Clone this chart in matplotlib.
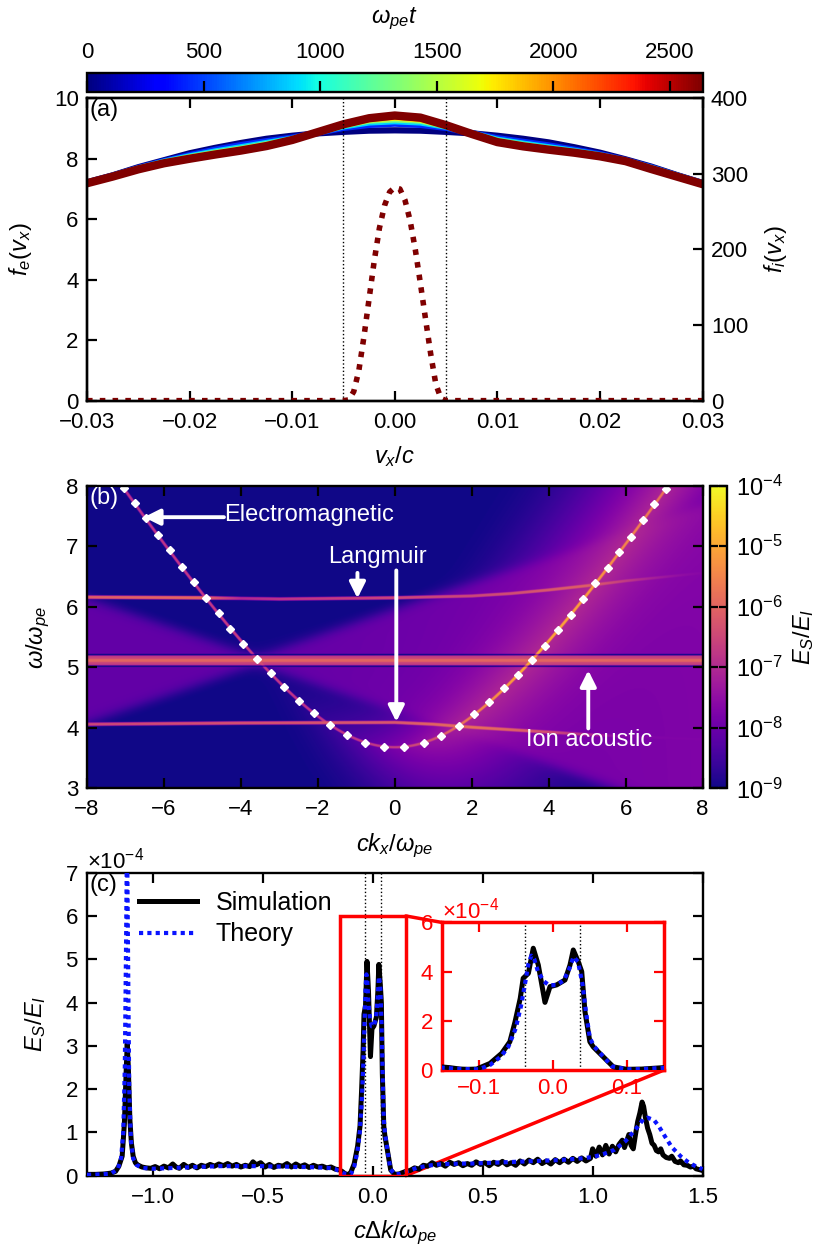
import numpy as np
import matplotlib
matplotlib.use('Agg')
import matplotlib.pyplot as plt
from matplotlib.colors import LogNorm, Normalize
from matplotlib.patches import Rectangle, ConnectionPatch
from matplotlib.ticker import ScalarFormatter, LogLocator, NullLocator
import matplotlib.cm as cm

plt.rcParams['font.family'] = ['Liberation Sans', 'DejaVu Sans']
plt.rcParams['mathtext.fontset'] = 'custom'
plt.rcParams['mathtext.rm'] = 'Liberation Sans'
plt.rcParams['mathtext.it'] = 'Liberation Sans:italic'
plt.rcParams['mathtext.bf'] = 'Liberation Sans:bold'
plt.rcParams['axes.linewidth'] = 1.7

TICK = 16
LAB = 17

# ---------------- panel (a) data ----------------
v_e = np.arange(-0.03, 0.03001, 0.0025)
t_e = [0, 440, 880, 1320, 1760, 2200, 2640]
f_e = [
    [7.22, 7.45, 7.72, 7.95, 8.18, 8.36, 8.52, 8.66, 8.76, 8.84, 8.89, 8.93, 8.94, 8.93, 8.89, 8.84, 8.76, 8.66, 8.54, 8.38, 8.20, 7.98, 7.74, 7.46, 7.20],
    [7.21, 7.44, 7.70, 7.92, 8.12, 8.30, 8.45, 8.58, 8.70, 8.86, 9.02, 9.12, 9.16, 9.12, 9.02, 8.85, 8.68, 8.56, 8.44, 8.30, 8.15, 7.96, 7.72, 7.45, 7.19],
    [7.20, 7.43, 7.68, 7.90, 8.08, 8.24, 8.38, 8.52, 8.66, 8.87, 9.07, 9.20, 9.24, 9.20, 9.06, 8.84, 8.63, 8.50, 8.38, 8.26, 8.12, 7.94, 7.70, 7.44, 7.18],
    [7.20, 7.42, 7.67, 7.88, 8.05, 8.20, 8.33, 8.48, 8.64, 8.88, 9.10, 9.26, 9.30, 9.26, 9.08, 8.83, 8.60, 8.46, 8.34, 8.23, 8.10, 7.93, 7.68, 7.43, 7.17],
    [7.19, 7.42, 7.66, 7.86, 8.03, 8.17, 8.30, 8.45, 8.63, 8.88, 9.12, 9.30, 9.36, 9.30, 9.10, 8.82, 8.57, 8.43, 8.32, 8.21, 8.09, 7.92, 7.67, 7.42, 7.16],
    [7.19, 7.41, 7.65, 7.85, 8.01, 8.15, 8.28, 8.43, 8.62, 8.88, 9.13, 9.32, 9.40, 9.33, 9.11, 8.82, 8.56, 8.42, 8.31, 8.20, 8.08, 7.92, 7.66, 7.41, 7.16],
    [7.19, 7.41, 7.65, 7.85, 8.00, 8.14, 8.27, 8.42, 8.62, 8.88, 9.14, 9.34, 9.43, 9.36, 9.11, 8.82, 8.55, 8.41, 8.30, 8.20, 8.08, 7.92, 7.66, 7.41, 7.16],
]
v_i = [-0.03, -0.005, -0.0045, -0.004, -0.0035, -0.003, -0.0025, -0.002, -0.0015, -0.001, -0.0005, 0.0,
       0.0005, 0.001, 0.0015, 0.002, 0.0025, 0.003, 0.0035, 0.004, 0.0045, 0.005, 0.03]
f_i = [0, 0, 1, 12, 40, 85, 135, 185, 228, 258, 276, 282, 280, 265, 238, 200, 155, 108, 62, 22, 3, 0, 0]
t_max = 2640
v_trap = 0.005

# ---------------- panel (b) data ----------------
theory_k = [-7.04, -6.76, -6.46, -6.15, -5.85, -5.53, -5.22, -4.90, -4.58, -4.27, -3.94, -3.59, -3.23, -2.88,
            -2.49, -2.09, -1.69, -1.25, -0.78, -0.27, 0.25, 0.75, 1.21, 1.66, 2.07, 2.45, 2.84, 3.21, 3.56,
            3.90, 4.25, 4.58, 4.89, 5.21, 5.53, 5.83, 6.13, 6.45, 6.75, 7.06]
theory_w = [7.97, 7.72, 7.46, 7.19, 6.93, 6.66, 6.41, 6.14, 5.89, 5.64, 5.39, 5.14, 4.91, 4.67,
            4.44, 4.24, 4.04, 3.88, 3.75, 3.69, 3.69, 3.75, 3.87, 4.03, 4.23, 4.43, 4.66, 4.88, 5.12,
            5.36, 5.61, 5.87, 6.13, 6.39, 6.64, 6.90, 7.16, 7.43, 7.69, 7.95]
# spectral features (log10 of E_S/E_I)
em_cutoff = 3.67
em_k = [-8, -4, -2, 0, 1, 2, 3.5, 5, 6.5, 8]
em_logI = [-6.9, -6.6, -6.8, -6.7, -6.3, -5.6, -4.9, -5.1, -5.6, -6.0]
lang_up_k = [-8, -5, -4, -3, 0, 2, 3, 4, 5, 6, 8]
lang_up_w = [6.15, 6.14, 6.13, 6.12, 6.14, 6.17, 6.21, 6.27, 6.34, 6.42, 6.55]
lang_up_logI = [-6.1, -5.9, -7.0, -6.8, -6.5, -6.5, -6.4, -6.2, -6.1, -6.8, -8.5]
lang_lo_k = [-8, -4, 0, 1, 2, 3, 4, 5, 6, 8]
lang_lo_w = [4.05, 4.07, 4.08, 4.05, 4.00, 3.96, 3.92, 3.88, 3.85, 3.80]
lang_lo_logI = [-6.5, -6.3, -6.2, -6.0, -5.8, -6.0, -6.4, -7.0, -8.2, -9.0]
ia_center, ia_halfwidth = 5.105, 0.075
cone_k0, cone_w0, cone_slope = -3.6, 5.1, 0.22

# ---------------- panel (c) data (units of 1e-4) ----------------
sim_x = [-1.30, -1.26, -1.22, -1.19, -1.17, -1.155, -1.14, -1.13, -1.122, -1.117, -1.112, -1.105, -1.098, -1.09,
         -1.08, -1.07, -1.05, -1.03, -1.01, -0.99, -0.97, -0.95, -0.93, -0.91, -0.895, -0.88, -0.86, -0.84,
         -0.82, -0.80, -0.78, -0.76, -0.74, -0.72, -0.70, -0.68, -0.66, -0.64, -0.62, -0.60, -0.58, -0.56,
         -0.545, -0.53, -0.51, -0.49, -0.47, -0.45, -0.43, -0.41, -0.39, -0.37, -0.35, -0.33, -0.31, -0.29,
         -0.27, -0.25, -0.23, -0.21, -0.19, -0.17, -0.155, -0.14, -0.125, -0.115, -0.1028, -0.0848, -0.069,
         -0.058, -0.051, -0.044, -0.040, -0.033, -0.0264, -0.0196, -0.0106, -0.0038, 0.0052, 0.0164, 0.0232,
         0.0276, 0.0344, 0.039, 0.0434, 0.050, 0.0546, 0.068, 0.0816, 0.0996, 0.12, 0.1356, 0.15, 0.17, 0.19,
         0.21, 0.23, 0.25, 0.27, 0.29, 0.31, 0.33, 0.35, 0.37, 0.39, 0.41, 0.43, 0.45, 0.47, 0.49, 0.51, 0.53,
         0.55, 0.57, 0.59, 0.61, 0.63, 0.65, 0.67, 0.69, 0.71, 0.73, 0.75, 0.77, 0.79, 0.81, 0.83, 0.85, 0.87,
         0.89, 0.91, 0.93, 0.95, 0.97, 0.99, 1.00, 1.015, 1.03, 1.045, 1.06, 1.075, 1.09, 1.105, 1.12, 1.135,
         1.145, 1.155, 1.165, 1.175, 1.185, 1.195, 1.205, 1.215, 1.225, 1.232, 1.24, 1.25, 1.26, 1.27, 1.28,
         1.29, 1.30, 1.31, 1.32, 1.335, 1.35, 1.36, 1.375, 1.39, 1.40, 1.415, 1.43, 1.445, 1.46, 1.47, 1.485, 1.50]
sim_y = [0.03, 0.03, 0.04, 0.06, 0.10, 0.22, 0.45, 1.2, 2.4, 3.05, 2.5, 1.3, 0.75, 0.45,
         0.30, 0.25, 0.20, 0.18, 0.17, 0.21, 0.16, 0.22, 0.18, 0.27, 0.20, 0.17, 0.26, 0.19,
         0.24, 0.18, 0.24, 0.21, 0.26, 0.22, 0.27, 0.23, 0.28, 0.22, 0.26, 0.20, 0.24, 0.21,
         0.32, 0.25, 0.30, 0.20, 0.26, 0.19, 0.24, 0.22, 0.28, 0.20, 0.27, 0.21, 0.25, 0.19,
         0.24, 0.20, 0.22, 0.18, 0.20, 0.15, 0.14, 0.10, 0.04, 0.03, 0.04, 0.27, 0.68,
         1.15, 1.96, 2.91, 3.73, 3.93, 4.95, 4.27, 2.75, 3.39, 3.46, 3.66, 4.27,
         4.88, 4.40, 4.0, 2.37, 1.15, 0.94, 0.54, 0.13, 0.03, 0.04, 0.07, 0.10, 0.12, 0.18,
         0.15, 0.24, 0.22, 0.30, 0.24, 0.28, 0.22, 0.31, 0.26, 0.30, 0.23, 0.28, 0.24, 0.32, 0.26, 0.30, 0.23,
         0.31, 0.26, 0.33, 0.25, 0.30, 0.24, 0.34, 0.27, 0.36, 0.30, 0.38, 0.28, 0.34, 0.27, 0.37, 0.30, 0.38,
         0.31, 0.40, 0.33, 0.41, 0.34, 0.40, 0.62, 0.45, 0.66, 0.48, 0.70, 0.50, 0.68, 0.55, 0.72, 0.82,
         0.65, 0.80, 0.95, 0.70, 0.62, 0.95, 1.25, 1.45, 1.70, 1.60, 1.35, 1.10, 0.95, 0.75, 0.70,
         0.58, 0.55, 0.62, 0.48, 0.42, 0.40, 0.45, 0.33, 0.30, 0.34, 0.25, 0.24, 0.20, 0.22, 0.16, 0.14, 0.12]
th_x = [-1.30, -1.24, -1.19, -1.16, -1.145, -1.135, -1.128, -1.122, -1.118, -1.114, -1.108, -1.10, -1.09,
        -1.075, -1.05, -1.00, -0.95, -0.90, -0.85, -0.80, -0.75, -0.70, -0.65, -0.60, -0.55, -0.50, -0.45,
        -0.40, -0.35, -0.30, -0.25, -0.20, -0.17, -0.15, -0.13, -0.10, -0.085, -0.07, -0.06, -0.05, -0.043,
        -0.037, -0.033, -0.029, -0.025, -0.02, -0.012, -0.005, 0.005, 0.015, 0.022, 0.028, 0.034, 0.04,
        0.045, 0.05, 0.056, 0.068, 0.08, 0.10, 0.12, 0.15, 0.20, 0.25, 0.30, 0.35, 0.40, 0.45, 0.50, 0.55,
        0.60, 0.65, 0.70, 0.75, 0.80, 0.85, 0.90, 0.95, 1.00, 1.05, 1.10, 1.15, 1.20, 1.23, 1.25, 1.28,
        1.30, 1.33, 1.36, 1.40, 1.43, 1.46, 1.50]
th_y = [0.02, 0.03, 0.05, 0.15, 0.4, 1.0, 2.5, 5.5, 8.0, 5.5, 2.0, 0.8, 0.4,
        0.25, 0.18, 0.16, 0.17, 0.18, 0.19, 0.20, 0.21, 0.22, 0.22, 0.22, 0.22, 0.22, 0.21,
        0.21, 0.20, 0.20, 0.19, 0.18, 0.15, 0.10, 0.05, 0.03, 0.2, 0.55, 0.95, 1.7, 2.6,
        3.6, 4.3, 4.65, 4.5, 4.0, 3.6, 3.45, 3.45, 3.65, 4.1, 4.6, 4.4, 3.5,
        2.3, 1.3, 0.95, 0.55, 0.15, 0.03, 0.04, 0.09, 0.18, 0.23, 0.26, 0.27, 0.28, 0.28, 0.29, 0.30,
        0.31, 0.32, 0.33, 0.34, 0.35, 0.36, 0.38, 0.40, 0.43, 0.50, 0.60, 0.80, 1.10, 1.30, 1.34, 1.28,
        1.15, 0.90, 0.66, 0.45, 0.33, 0.24, 0.15]
dk_lines = [-0.037, 0.037]
zoom_lo, zoom_hi = -0.15, 0.15


def style_ticks(ax, color='black'):
    ax.tick_params(which='major', direction='in', length=7, width=1.6, labelsize=TICK,
                   top=True, right=True, colors=color)
    ax.tick_params(axis='x', pad=8)
    ax.tick_params(axis='y', pad=6)


fig = plt.figure(figsize=(8.31, 12.47), dpi=100)
L = 0.1047
W = 0.7407

# ---------------- (a) ----------------
cax_a = fig.add_axes([L, 0.9262, W, 0.0152])
ax_a = fig.add_axes([L, 0.6787, W, 0.2425])
norm_t = Normalize(0, t_max)
cb_a = fig.colorbar(cm.ScalarMappable(norm=norm_t, cmap='jet'), cax=cax_a, orientation='horizontal')
cb_a.set_ticks([0, 500, 1000, 1500, 2000, 2500])
cax_a.tick_params(axis='x', direction='in', bottom=True, top=False, labelbottom=False, labeltop=True,
                  length=8, width=1.6, labelsize=TICK, pad=7)
cax_a.xaxis.set_label_position('top')
cb_a.set_label(r'$\omega_{pe}t$', fontsize=LAB, labelpad=14)
cb_a.outline.set_linewidth(1.7)

for t, f in zip(t_e, f_e):
    lw = 6 if t == t_max else 4.5
    ax_a.plot(v_e, f, color=cm.jet(norm_t(t)), lw=lw, solid_capstyle='round')
ax_a.set_xlim(-0.03, 0.03)
ax_a.set_ylim(0, 10)
ax_a.set_xticks([-0.03, -0.02, -0.01, 0.0, 0.01, 0.02, 0.03])
ax_a.set_yticks([0, 2, 4, 6, 8, 10])
for vt in (-v_trap, v_trap):
    ax_a.axvline(vt, color='black', lw=1.0, ls=':')
style_ticks(ax_a)
ax_a.tick_params(right=False)
ax_a.set_xlabel(r'$v_x/c$', fontsize=LAB, labelpad=8)
ax_a.set_ylabel(r'$f_e(v_x)$', fontsize=LAB, labelpad=14)
ax_a.text(0.004, 0.997, '(a)', transform=ax_a.transAxes, ha='left', va='top', fontsize=17)

ax_a2 = ax_a.twinx()
ax_a2.plot(v_i, f_i, color='#7f0000', lw=4, ls=(0, (1, 1.3)))
ax_a2.set_ylim(0, 400)
ax_a2.set_yticks([0, 100, 200, 300, 400])
ax_a2.tick_params(direction='in', length=7, width=1.6, labelsize=TICK, pad=6)
ax_a2.set_ylabel(r'$f_i(v_x)$', fontsize=LAB, labelpad=10)

# ---------------- (b) ----------------
ax_b = fig.add_axes([L, 0.3678, W, 0.2427])
cax_b = fig.add_axes([0.8544, 0.3678, 0.0208, 0.2427])

kk = np.linspace(-8, 8, 1231)
ww = np.linspace(3, 8, 605)
K, Wg = np.meshgrid(kk, ww)
px_k = 615.0 / 16
px_w = 302.0 / 5
Om = np.sqrt(em_cutoff ** 2 + K ** 2)
d_em = np.abs(Wg - Om) * px_w / np.sqrt(1 + (K / Om * px_w / px_k) ** 2)

spec = np.full(K.shape, 1e-9)
edge = 0.05
right = 1 / (1 + np.exp(-((cone_slope * (K - cone_k0) - np.abs(Wg - cone_w0)) / edge)))
left = 1 / (1 + np.exp(-((cone_slope * (cone_k0 - K) - np.abs(Wg - cone_w0)) / edge)))
spec += right * 10 ** (-8.15 + 0.035 * (K - cone_k0)) + left * 10 ** (-8.15)
glow = 1 / (1 + np.exp(-(K - 1.0) / 0.7))
spec += glow * 10 ** -7.1 * np.exp(-d_em / 22)
spec += 10 ** np.interp(K, em_k, em_logI) * np.exp(-(d_em / 1.1) ** 4)
for lk, lw_, li in ((lang_up_k, lang_up_w, lang_up_logI), (lang_lo_k, lang_lo_w, lang_lo_logI)):
    dl = np.abs(Wg - np.interp(K, lk, lw_)) * px_w
    spec += 10 ** np.interp(K, lk, li) * np.exp(-(dl / 1.3) ** 4)
band = 1 / (1 + np.exp((np.abs(Wg - ia_center) - ia_halfwidth) / 0.008))
spec += band * 10 ** -6.6 + 10 ** -6.1 * np.exp(-(np.abs(Wg - ia_center) / 0.025) ** 4)
for we in (ia_center - ia_halfwidth - 0.02, ia_center + ia_halfwidth + 0.02):
    spec *= 1 - 0.995 * np.exp(-(np.abs(Wg - we) / 0.018) ** 4)
spec = np.clip(spec, 1.05e-9, 1e-4)

im = ax_b.imshow(spec, extent=[-8, 8, 3, 8], origin='lower', aspect='auto', cmap='plasma',
                 norm=LogNorm(1e-9, 1e-4), interpolation='bilinear')
ax_b.plot(theory_k, theory_w, ls='none', marker='D', ms=4, color='white', mec='white')
ax_b.set_xlim(-8, 8)
ax_b.set_ylim(3, 8)
ax_b.set_xticks(np.arange(-8, 9, 2))
ax_b.set_yticks(np.arange(3, 9, 1))
style_ticks(ax_b)
ax_b.set_xlabel(r'$ck_x/\omega_{pe}$', fontsize=LAB, labelpad=8)
ax_b.set_ylabel(r'$\omega/\omega_{pe}$', fontsize=LAB, labelpad=10)
ax_b.text(0.004, 0.997, '(b)', transform=ax_b.transAxes, ha='left', va='top', fontsize=17, color='white')

arr = dict(arrowstyle='-|>', color='white', lw=2.8, mutation_scale=24, shrinkA=0, shrinkB=0)
ax_b.annotate('', xy=(-6.52, 7.48), xytext=(-4.44, 7.48), arrowprops=arr)
ax_b.text(-4.44, 7.52, 'Electromagnetic', color='white', ha='left', va='center', fontsize=17)
ax_b.text(-0.44, 6.82, 'Langmuir', color='white', ha='center', va='center', fontsize=17)
ax_b.annotate('', xy=(-0.97, 6.14), xytext=(-0.97, 6.56), arrowprops=arr)
ax_b.annotate('', xy=(0.04, 4.10), xytext=(0.04, 6.60), arrowprops=arr)
ax_b.text(5.05, 3.80, 'Ion acoustic', color='white', ha='center', va='center', fontsize=17)
ax_b.annotate('', xy=(5.03, 4.95), xytext=(5.03, 3.99), arrowprops=arr)

cb_b = fig.colorbar(im, cax=cax_b)
cb_b.set_ticks(LogLocator(base=10).tick_values(1e-9, 1e-4))
cax_b.yaxis.set_minor_locator(NullLocator())
cax_b.tick_params(which='major', direction='in', left=True, right=True, length=6, width=1.6,
                  labelsize=17, pad=6)
cb_b.set_label(r'$E_S/E_I$', fontsize=LAB, labelpad=6)
cb_b.outline.set_linewidth(1.7)
cax_b.set_ylim(1e-9, 1e-4)

# ---------------- (c) ----------------
ax_c = fig.add_axes([L, 0.0572, W, 0.2430])
sx = np.array(sim_x)
sy = np.array(sim_y) * 1e-4
tx = np.array(th_x)
ty = np.array(th_y) * 1e-4
for x0 in dk_lines:
    ax_c.axvline(x0, color='black', lw=1.0, ls=':', zorder=1)
ax_c.plot(sx, sy, color='black', lw=3.6, label='Simulation', zorder=3)
ax_c.plot(tx, ty, color='#0a14ff', lw=3.0, ls=(0, (1, 1)), label='Theory', zorder=4)
ax_c.set_xlim(-1.3, 1.5)
ax_c.set_ylim(0, 7e-4)
ax_c.set_xticks([-1.0, -0.5, 0.0, 0.5, 1.0, 1.5])
ax_c.set_yticks(np.arange(0, 8) * 1e-4)
fmt = ScalarFormatter(useMathText=True)
fmt.set_powerlimits((0, 0))
ax_c.yaxis.set_major_formatter(fmt)
ax_c.yaxis.get_offset_text().set_fontsize(TICK)
style_ticks(ax_c)
ax_c.set_xlabel(r'$c\Delta k/\omega_{pe}$', fontsize=LAB, labelpad=8)
ax_c.set_ylabel(r'$E_S/E_I$', fontsize=LAB, labelpad=12)
ax_c.text(0.004, 0.997, '(c)', transform=ax_c.transAxes, ha='left', va='top', fontsize=17)
ax_c.legend(loc='upper left', bbox_to_anchor=(0.085, 0.94), frameon=False, fontsize=18,
            handlelength=2.3, handletextpad=0.75, borderpad=0, borderaxespad=0, labelspacing=0.3)
ax_c.add_patch(Rectangle((zoom_lo, 0), zoom_hi - zoom_lo, 6e-4, fill=False, ec='red', lw=2.5, zorder=5))

ax_in = fig.add_axes([0.5315, 0.1419, 0.2675, 0.1184])
for x0 in dk_lines:
    ax_in.axvline(x0, color='black', lw=1.0, ls=':', zorder=1)
ax_in.plot(sx, sy, color='black', lw=3.6, zorder=3)
ax_in.plot(tx, ty, color='#0a14ff', lw=3.0, ls=(0, (1, 1)), zorder=4)
ax_in.set_xlim(zoom_lo, zoom_hi)
ax_in.set_ylim(0, 6e-4)
ax_in.set_xticks([-0.1, 0.0, 0.1])
ax_in.set_yticks(np.arange(0, 7, 2) * 1e-4)
fmt2 = ScalarFormatter(useMathText=True)
fmt2.set_powerlimits((0, 0))
ax_in.yaxis.set_major_formatter(fmt2)
ax_in.tick_params(which='major', direction='in', length=7, width=1.6, labelsize=TICK,
                  top=True, right=True, colors='red', pad=6)
ax_in.yaxis.get_offset_text().set_color('red')
ax_in.yaxis.get_offset_text().set_fontsize(TICK)
for s in ax_in.spines.values():
    s.set_color('red')
    s.set_linewidth(2.5)

for pa, pb in (((zoom_hi, 6e-4), (0, 1)), ((zoom_hi, 0), (1, 0))):
    con = ConnectionPatch(xyA=pa, coordsA=ax_c.transData, xyB=pb, coordsB=ax_in.transAxes,
                          color='red', lw=2.5, zorder=2)
    ax_c.add_artist(con)

fig.savefig('out.png', dpi=100)
